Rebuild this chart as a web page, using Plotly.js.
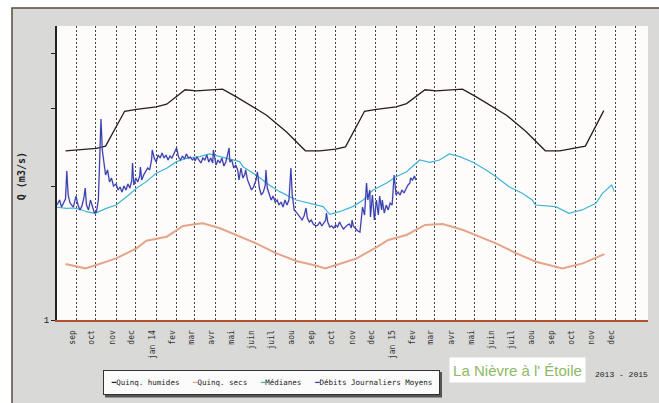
<!DOCTYPE html>
<html>
<head>
<meta charset="utf-8">
<script src="https://cdn.plot.ly/plotly-3.0.1.min.js"></script>
<style>
  html, body { margin: 0; padding: 0; background: #ffffff; }
  #chart { width: 659px; height: 403px; }
</style>
</head>
<body>
<div id="chart"></div>
<script>
// ---------- data ----------
const monthTicks = ['2013-09-01','2013-10-01','2013-11-01','2013-12-01','2014-01-01','2014-02-01','2014-03-01','2014-04-01','2014-05-01','2014-06-01','2014-07-01','2014-08-01','2014-09-01','2014-10-01','2014-11-01','2014-12-01','2015-01-01','2015-02-01','2015-03-01','2015-04-01','2015-05-01','2015-06-01','2015-07-01','2015-08-01','2015-09-01','2015-10-01','2015-11-01','2015-12-01','2016-01-01'];
const monthLabels = ['sep','oct','nov','dec','jan 14','fev','mar','avr','mai','juin','juil','aou','sep','oct','nov','dec','jan 15','fev','mar','avr','mai','juin','juil','aou','sep','oct','nov','dec',''];

const humDates = ['2013-08-16','2013-09-02','2013-10-02','2013-10-16','2013-11-14','2013-12-02','2014-01-01','2014-01-17','2014-02-14','2014-03-03','2014-03-28','2014-04-12','2014-05-03','2014-06-18','2014-07-18','2014-08-16','2014-09-07','2014-09-22','2014-10-01','2014-10-16','2014-11-14','2014-12-02','2015-01-01','2015-01-17','2015-02-14','2015-03-03','2015-03-28','2015-04-12','2015-05-03','2015-06-18','2015-07-18','2015-08-16','2015-09-07','2015-10-16','2015-11-13'];
const humVals = [2.41,2.42,2.44,2.47,2.96,2.99,3.03,3.07,3.31,3.29,3.31,3.32,3.19,2.90,2.66,2.41,2.41,2.42,2.43,2.46,2.96,2.99,3.03,3.08,3.31,3.29,3.31,3.32,3.19,2.90,2.66,2.41,2.41,2.47,2.97];

const secDates = ['2013-08-16','2013-09-02','2013-09-15','2013-10-02','2013-11-01','2013-12-02','2013-12-17','2014-01-17','2014-02-11','2014-03-03','2014-03-13','2014-04-08','2014-05-03','2014-06-02','2014-07-03','2014-08-02','2014-09-02','2014-09-15','2014-10-02','2014-11-02','2014-12-02','2014-12-20','2015-01-17','2015-02-14','2015-03-13','2015-04-13','2015-06-02','2015-07-03','2015-08-02','2015-09-11','2015-10-12','2015-11-14'];
const secVals = [1.338,1.319,1.308,1.331,1.378,1.451,1.510,1.542,1.630,1.647,1.653,1.611,1.556,1.490,1.414,1.359,1.326,1.308,1.331,1.378,1.459,1.516,1.556,1.639,1.647,1.597,1.490,1.414,1.354,1.308,1.342,1.409];

const medDates = ['2013-08-03','2013-08-18','2013-08-28','2013-09-07','2013-09-17','2013-09-30','2013-10-17','2013-11-01','2013-11-17','2013-12-02','2013-12-17','2014-01-01','2014-01-17','2014-02-01','2014-02-16','2014-03-08','2014-03-23','2014-04-08','2014-04-28','2014-05-08','2014-05-13','2014-06-02','2014-06-22','2014-07-08','2014-08-02','2014-08-22','2014-09-12','2014-09-22','2014-10-07','2014-10-27','2014-11-12','2014-11-27','2014-12-17','2015-01-01','2015-01-17','2015-02-06','2015-02-21','2015-03-08','2015-03-23','2015-04-08','2015-04-28','2015-05-18','2015-06-02','2015-06-22','2015-07-12','2015-07-27','2015-08-01','2015-09-01','2015-09-21','2015-10-11','2015-11-01','2015-11-11','2015-11-25','2015-11-29'];
const medVals = [1.797,1.787,1.790,1.778,1.756,1.741,1.787,1.818,1.898,1.983,2.053,2.144,2.200,2.278,2.318,2.338,2.371,2.338,2.306,2.278,2.219,2.125,2.017,1.949,1.866,1.834,1.803,1.732,1.756,1.803,1.866,1.966,2.035,2.107,2.162,2.298,2.270,2.298,2.371,2.338,2.270,2.182,2.107,2.000,1.932,1.866,1.818,1.803,1.741,1.772,1.834,1.932,2.017,1.949];

const debDates = ['2013-08-03','2013-08-07','2013-08-10','2013-08-13','2013-08-16','2013-08-18','2013-08-20','2013-08-23','2013-08-28','2013-09-01','2013-09-04','2013-09-07','2013-09-10','2013-09-13','2013-09-15','2013-09-17','2013-09-20','2013-09-23','2013-09-26','2013-09-29','2013-10-02','2013-10-05','2013-10-07','2013-10-09','2013-10-11','2013-10-13','2013-10-16','2013-10-19','2013-10-22','2013-10-25','2013-10-28','2013-11-01','2013-11-04','2013-11-07','2013-11-10','2013-11-13','2013-11-16','2013-11-19','2013-11-22','2013-11-25','2013-11-26','2013-11-28','2013-12-01','2013-12-04','2013-12-07','2013-12-08','2013-12-10','2013-12-13','2013-12-16','2013-12-19','2013-12-22','2013-12-25','2013-12-26','2013-12-29','2014-01-01','2014-01-04','2014-01-07','2014-01-10','2014-01-13','2014-01-16','2014-01-19','2014-01-22','2014-01-25','2014-01-28','2014-02-01','2014-02-04','2014-02-07','2014-02-10','2014-02-13','2014-02-16','2014-02-19','2014-02-22','2014-02-25','2014-02-28','2014-03-01','2014-03-04','2014-03-07','2014-03-10','2014-03-13','2014-03-16','2014-03-19','2014-03-22','2014-03-25','2014-03-28','2014-03-29','2014-04-02','2014-04-05','2014-04-08','2014-04-11','2014-04-14','2014-04-17','2014-04-20','2014-04-22','2014-04-23','2014-04-26','2014-04-29','2014-05-02','2014-05-05','2014-05-07','2014-05-10','2014-05-13','2014-05-16','2014-05-17','2014-05-20','2014-05-23','2014-05-26','2014-05-29','2014-06-02','2014-06-04','2014-06-07','2014-06-10','2014-06-13','2014-06-16','2014-06-17','2014-06-19','2014-06-22','2014-06-25','2014-06-28','2014-07-01','2014-07-04','2014-07-07','2014-07-10','2014-07-13','2014-07-16','2014-07-19','2014-07-22','2014-07-25','2014-07-27','2014-07-30','2014-08-02','2014-08-05','2014-08-08','2014-08-11','2014-08-14','2014-08-17','2014-08-19','2014-08-22','2014-08-25','2014-08-28','2014-09-01','2014-09-04','2014-09-07','2014-09-10','2014-09-13','2014-09-16','2014-09-17','2014-09-19','2014-09-22','2014-09-25','2014-09-28','2014-10-01','2014-10-04','2014-10-07','2014-10-10','2014-10-13','2014-10-16','2014-10-19','2014-10-22','2014-10-25','2014-10-26','2014-10-28','2014-11-01','2014-11-04','2014-11-07','2014-11-08','2014-11-11','2014-11-14','2014-11-17','2014-11-19','2014-11-22','2014-11-23','2014-11-26','2014-11-29','2014-12-02','2014-12-05','2014-12-07','2014-12-10','2014-12-11','2014-12-14','2014-12-17','2014-12-20','2014-12-23','2014-12-26','2014-12-29','2015-01-01','2015-01-04','2015-01-07','2015-01-10','2015-01-13','2015-01-16','2015-01-19','2015-01-22','2015-01-23','2015-01-26','2015-01-29','2015-01-31'];
const debVals = [1.818,1.866,1.799,1.847,1.876,2.170,1.915,1.837,1.799,1.905,1.818,1.772,1.809,1.886,1.986,1.818,1.772,1.866,1.790,1.744,1.753,1.866,2.298,2.843,2.420,2.286,2.125,2.182,2.050,2.092,2.007,2.028,1.966,1.997,1.945,2.007,1.966,2.028,1.986,2.071,2.262,2.017,2.092,2.050,2.114,2.215,2.071,2.125,2.159,2.204,2.182,2.298,2.420,2.321,2.274,2.358,2.321,2.383,2.321,2.358,2.298,2.346,2.321,2.383,2.446,2.333,2.298,2.346,2.310,2.371,2.321,2.333,2.298,2.321,2.286,2.333,2.298,2.262,2.321,2.298,2.358,2.274,2.321,2.262,2.420,2.239,2.298,2.262,2.321,2.227,2.274,2.358,2.446,2.274,2.298,2.204,2.239,2.182,2.071,2.204,2.092,2.136,2.182,2.071,2.017,1.966,1.997,2.071,2.159,1.986,1.915,1.945,2.017,2.182,1.986,1.915,1.866,1.905,1.847,1.866,1.818,1.847,1.799,1.866,1.818,1.866,2.204,1.915,1.772,1.753,1.726,1.709,1.682,1.718,1.790,1.699,1.665,1.682,1.647,1.630,1.639,1.665,1.630,1.656,1.682,1.744,1.665,1.622,1.630,1.613,1.639,1.622,1.665,1.630,1.605,1.622,1.639,1.647,1.613,1.682,1.630,1.605,1.588,1.580,1.630,1.799,1.726,2.039,1.866,1.966,1.708,1.915,1.682,1.866,1.726,1.905,1.772,1.866,1.744,1.818,1.772,1.837,1.818,2.125,1.915,1.945,1.915,1.966,1.935,1.986,2.017,2.039,2.092,2.071,2.114,2.071];

const seriesNames = ['Quinq. humides','Quinq. secs','Médianes','Débits Journaliers Moyens'];
const seriesColors = ['#2a1c1c','#e6a488','#3fb4d8','#2a44b4'];

// ---------- traces ----------
const traces = [
  {x: secDates, y: secVals, name: seriesNames[1], type: 'scatter', mode: 'lines',
   line: {color: seriesColors[1], width: 2}, showlegend: false},
  {x: humDates, y: humVals, name: seriesNames[0], type: 'scatter', mode: 'lines',
   line: {color: seriesColors[0], width: 1.3}, showlegend: false},
  {x: medDates, y: medVals, name: seriesNames[2], type: 'scatter', mode: 'lines',
   line: {color: seriesColors[2], width: 1.2}, showlegend: false},
  {x: debDates, y: debVals, name: seriesNames[3] + ' (halo)', type: 'scatter', mode: 'lines',
   line: {color: 'rgba(225,110,170,0.3)', width: 2}, showlegend: false, hoverinfo: 'skip'},
  {x: debDates, y: debVals, name: seriesNames[3], type: 'scatter', mode: 'lines',
   line: {color: seriesColors[3], width: 1.15}, showlegend: false}
];

// ---------- layout helpers (pixel -> paper) ----------
const L = 57, R = 648, T = 26, B = 320;
const px = v => (v - L) / (R - L);
const py = v => (B - v) / (B - T);

const nb = '\u00a0';
const legendText =
  '<span style="color:' + seriesColors[0] + '">━</span>' + seriesNames[0] + nb+nb+nb +
  '<span style="color:' + seriesColors[1] + '">━</span>' + seriesNames[1] + nb+nb+nb +
  '<span style="color:' + seriesColors[2] + '">━</span>' + seriesNames[2] + nb+nb+nb +
  '<span style="color:' + seriesColors[3] + '">━</span>' + seriesNames[3];

const layout = {
  width: 659, height: 403,
  margin: {l: L, r: 659 - R, t: T, b: 403 - B, pad: 0},
  paper_bgcolor: '#ffffff',
  plot_bgcolor: '#fdfcfb',
  showlegend: false,
  xaxis: {
    type: 'date',
    range: ['2013-08-03 02:00', '2016-01-19 07:00'],
    tickmode: 'array', tickvals: monthTicks, ticktext: monthLabels,
    tickangle: -90, ticks: '',
    ticklabelshift: -4, ticklabelstandoff: 5,
    tickfont: {family: 'DejaVu Sans Mono', size: 8, color: '#333'},
    showgrid: true, gridcolor: '#444', gridwidth: 1, griddash: '2px,2px',
    showline: true, linecolor: '#b0532c', linewidth: 2,
    zeroline: false, fixedrange: true
  },
  yaxis: {
    type: 'log',
    range: [0, 0.6638],
    tickmode: 'array', tickvals: [1, 2, 3, 4], ticktext: ['1', '', '', ''],
    ticks: 'outside', ticklen: 4, tickcolor: '#222', tickwidth: 1,
    tickfont: {family: 'Liberation Mono', size: 9, color: '#222'},
    showgrid: false, showline: true, linecolor: '#222', linewidth: 2,
    zeroline: false, fixedrange: true
  },
  shapes: [
    {type: 'rect', xref: 'paper', yref: 'paper', layer: 'below',
     x0: px(12), x1: px(680), y0: py(8), y1: py(420),
     fillcolor: '#d9d9d7', line: {color: '#5a4a44', width: 1.5}},
    {type: 'rect', xref: 'paper', yref: 'paper', layer: 'below',
     x0: px(55), x1: 1, y0: 0, y1: 1,
     fillcolor: '#fdfcfb', line: {width: 0}},
    {type: 'rect', xref: 'paper', yref: 'paper', layer: 'above',
     x0: px(105), x1: px(442), y0: py(372), y1: py(397.5),
     fillcolor: '#555555', line: {width: 0}}
  ],
  annotations: [
    {text: 'Q (m3/s)', textangle: -90, xref: 'paper', yref: 'paper',
     x: px(21.7), y: py(176.5), xanchor: 'center', yanchor: 'middle', showarrow: false,
     font: {family: 'DejaVu Sans Mono', size: 10, color: '#222', weight: 'bold'}},
    {text: legendText, xref: 'paper', yref: 'paper',
     x: px(271.5), y: py(382.5), xanchor: 'center', yanchor: 'middle', showarrow: false,
     width: 331, height: 19, align: 'center', valign: 'middle',
     bgcolor: '#fbfbfb', bordercolor: '#333', borderwidth: 1, borderpad: 2,
     font: {family: 'DejaVu Sans Mono', size: 7.5, color: '#222'}},
    {text: 'La Nièvre à l\' Étoile', xref: 'paper', yref: 'paper',
     x: px(517.5), y: py(370), xanchor: 'center', yanchor: 'middle', showarrow: false,
     width: 131, height: 20, bgcolor: '#ffffff', borderpad: 2,
     font: {family: 'Liberation Sans', size: 15, color: '#8db865'}},
    {text: '2013 - 2015', xref: 'paper', yref: 'paper',
     x: px(621), y: py(374), xanchor: 'center', yanchor: 'middle', showarrow: false,
     font: {family: 'Liberation Mono', size: 8, color: '#222'}}
  ]
};

Plotly.newPlot('chart', traces, layout, {staticPlot: true, displayModeBar: false});
</script>
</body>
</html>
